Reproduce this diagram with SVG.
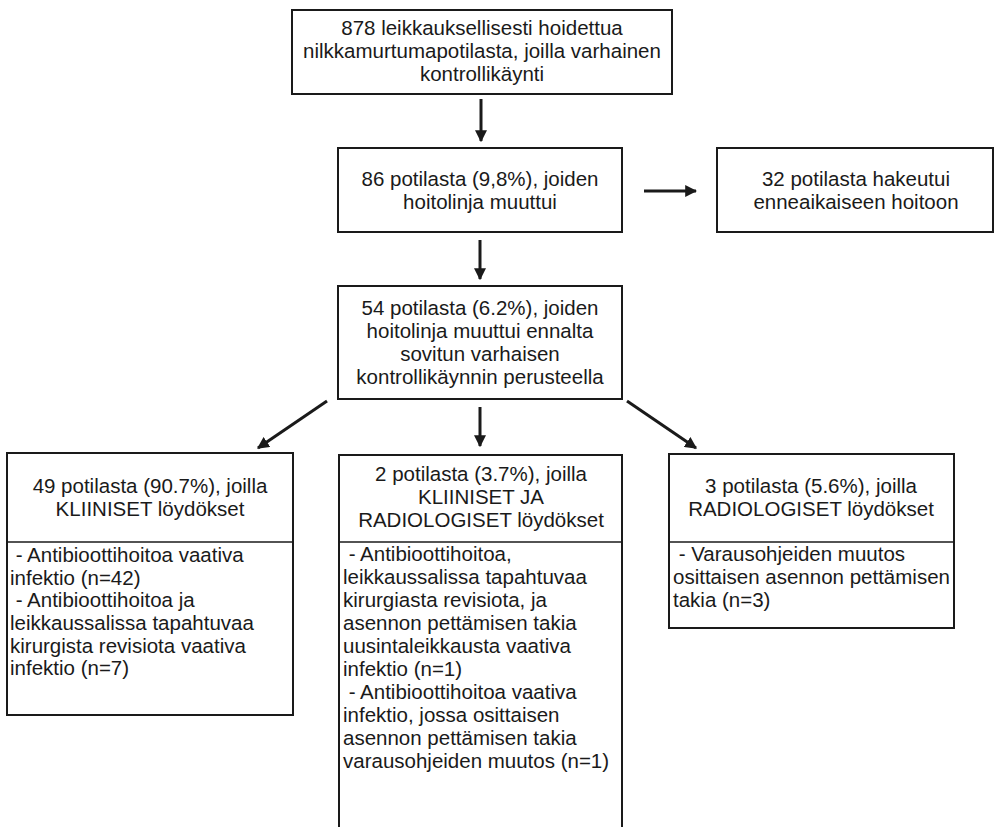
<svg xmlns="http://www.w3.org/2000/svg" width="996" height="827" viewBox="0 0 996 827">
<defs>
<marker id="ah" viewBox="0 0 10 10" refX="9" refY="5" markerWidth="4" markerHeight="4" orient="auto" markerUnits="strokeWidth">
<path d="M0,0 L10,5 L0,10 z" fill="#1a1a1a"/>
</marker>
<style>
.box{fill:#fff;stroke:#1a1a1a;stroke-width:2}
.div{stroke:#1a1a1a;stroke-width:1.6}
text{font-family:"Liberation Sans",Arial,sans-serif;font-size:20.5px;fill:#1a1a1a;white-space:pre}
.c{text-anchor:middle}
.conn line{stroke:#1a1a1a;stroke-width:3;marker-end:url(#ah)}
</style>
</defs>
<rect width="996" height="827" fill="#fff"/>
<g id="n1">
<rect class="box" x="292" y="10" width="380" height="84"/>
<text class="c" x="482" y="35">878 leikkauksellisesti hoidettua</text>
<text class="c" x="482" y="58">nilkkamurtumapotilasta, joilla varhainen</text>
<text class="c" x="482" y="81">kontrollikäynti</text>
</g>
<g id="n2">
<rect class="box" x="338" y="148" width="284" height="84"/>
<text class="c" x="480" y="186">86 potilasta (9,8%), joiden</text>
<text class="c" x="480" y="209">hoitolinja muuttui</text>
</g>
<g id="n3">
<rect class="box" x="717" y="148" width="276" height="84"/>
<text class="c" x="856" y="186">32 potilasta hakeutui</text>
<text class="c" x="856" y="209">enneaikaiseen hoitoon</text>
</g>
<g id="n4">
<rect class="box" x="338" y="286" width="284" height="113"/>
<text class="c" x="480" y="315">54 potilasta (6.2%), joiden</text>
<text class="c" x="480" y="338">hoitolinja muuttui ennalta</text>
<text class="c" x="480" y="361">sovitun varhaisen</text>
<text class="c" x="480" y="384">kontrollikäynnin perusteella</text>
</g>
<g id="n5">
<rect class="box" x="7" y="453" width="286" height="262"/>
<line class="div" x1="7" y1="542" x2="293" y2="542"/>
<text class="c" x="150" y="493">49 potilasta (90.7%), joilla</text>
<text class="c" x="150" y="516">KLIINISET löydökset</text>
<text x="10" y="562"> - Antibioottihoitoa vaativa</text>
<text x="10" y="585">infektio (n=42)</text>
<text x="10" y="607"> - Antibioottihoitoa ja</text>
<text x="10" y="630">leikkaussalissa tapahtuvaa</text>
<text x="10" y="653">kirurgista revisiota vaativa</text>
<text x="10" y="675">infektio (n=7)</text>
</g>
<g id="n6">
<rect class="box" x="339" y="455" width="283" height="390"/>
<line class="div" x1="339" y1="542" x2="622" y2="542"/>
<text class="c" x="481" y="481">2 potilasta (3.7%), joilla</text>
<text class="c" x="481" y="504">KLIINISET JA</text>
<text class="c" x="481" y="527">RADIOLOGISET löydökset</text>
<text x="343" y="561"> - Antibioottihoitoa,</text>
<text x="343" y="584">leikkaussalissa tapahtuvaa</text>
<text x="343" y="607">kirurgiasta revisiota, ja</text>
<text x="343" y="630">asennon pettämisen takia</text>
<text x="343" y="653">uusintaleikkausta vaativa</text>
<text x="343" y="676">infektio (n=1)</text>
<text x="343" y="699"> - Antibioottihoitoa vaativa</text>
<text x="343" y="722">infektio, jossa osittaisen</text>
<text x="343" y="745">asennon pettämisen takia</text>
<text x="343" y="768">varausohjeiden muutos (n=1)</text>
</g>
<g id="n7">
<rect class="box" x="669" y="454" width="285" height="174"/>
<line class="div" x1="669" y1="542" x2="954" y2="542"/>
<text class="c" x="811" y="493">3 potilasta (5.6%), joilla</text>
<text class="c" x="811" y="516">RADIOLOGISET löydökset</text>
<text x="673" y="561"> - Varausohjeiden muutos</text>
<text x="673" y="584">osittaisen asennon pettämisen</text>
<text x="673" y="607">takia (n=3)</text>
</g>
<g id="connectors" class="conn">
<line x1="481" y1="99" x2="481" y2="141"/>
<line x1="644" y1="191" x2="696" y2="191"/>
<line x1="480" y1="240" x2="480" y2="279"/>
<line x1="327" y1="401" x2="258" y2="448"/>
<line x1="480" y1="407" x2="480" y2="446"/>
<line x1="627" y1="401" x2="696" y2="448"/>
</g>
</svg>
